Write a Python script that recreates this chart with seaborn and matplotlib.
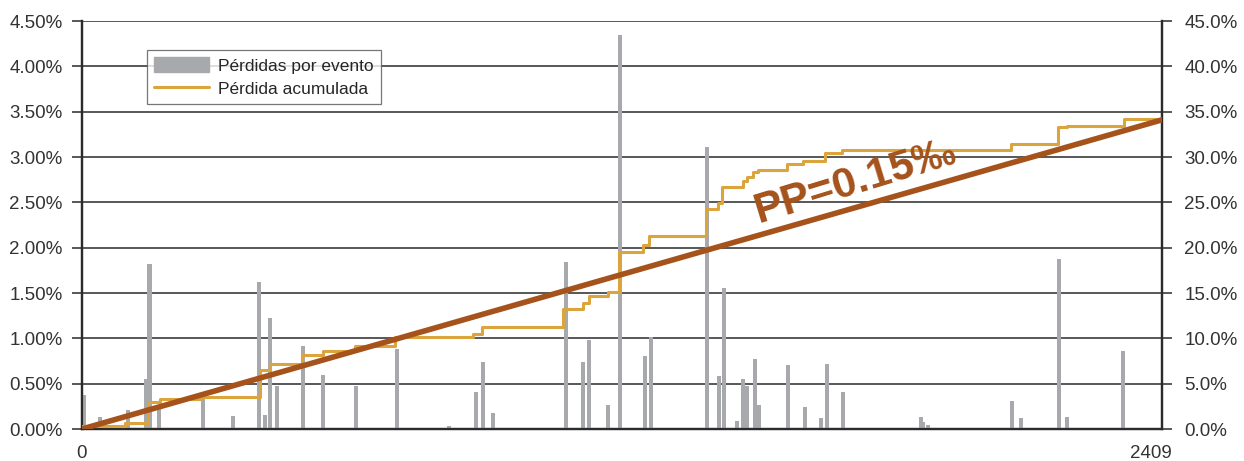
import numpy as np
import matplotlib
matplotlib.use('Agg')
import matplotlib.pyplot as plt
import matplotlib.patches as mpatches
import matplotlib.lines as mlines
from matplotlib.ticker import FuncFormatter
import seaborn as sns

sns.set_style('white')
plt.rcParams['font.family'] = ['Liberation Sans', 'DejaVu Sans']

# Pérdidas por evento (posición del evento, pérdida en %)
event_x = [5, 41, 63, 104, 144, 152, 174, 273, 340, 399, 412, 424, 439, 498, 543,
           618, 710, 827, 888, 904, 926, 1091, 1129, 1143, 1185, 1213, 1269, 1282,
           1409, 1436, 1447, 1476, 1490, 1499, 1517, 1526, 1591, 1629, 1666, 1679,
           1715, 1891, 1895, 1907, 2096, 2116, 2202, 2220, 2346]
event_loss = [0.38, 0.13, 0.03, 0.21, 0.55, 1.82, 0.22, 0.37, 0.14, 1.62, 0.15, 1.22,
              0.47, 0.92, 0.60, 0.47, 0.88, 0.03, 0.41, 0.74, 0.18, 1.84, 0.74, 0.98,
              0.27, 4.35, 0.81, 1.01, 3.11, 0.58, 1.56, 0.09, 0.55, 0.47, 0.77, 0.27,
              0.71, 0.24, 0.12, 0.72, 0.41, 0.13, 0.08, 0.04, 0.31, 0.12, 1.87, 0.13,
              0.86]

# Pérdida acumulada (escalones, eje derecho en %)
cum_x = [0, 97, 149, 176, 266, 401, 424, 496, 543, 615, 705, 881, 901, 1084, 1129,
         1143, 1185, 1210, 1264, 1278, 1406, 1433, 1442, 1490, 1499, 1512, 1524, 1589,
         1625, 1675, 1713, 2094, 2200, 2220, 2348, 2434]
cum_y = [0.3, 0.7, 3.0, 3.3, 3.5, 6.5, 7.2, 8.2, 8.6, 9.1, 10.1, 10.5, 11.2, 13.2, 13.9,
         14.7, 15.1, 19.5, 20.3, 21.3, 24.3, 24.9, 26.7, 27.4, 27.8, 28.4, 28.6, 29.2,
         29.6, 30.4, 30.8, 31.4, 33.3, 33.4, 34.2, 34.2]

# Recta PP
pp_x = [0, 2434]
pp_y = [0, 34.1]

x_ticks = [0, 344, 688, 1032, 1376, 1720, 2065, 2409]
x_ticklabels = ['0', '', '', '', '', '', '', '2409']

bar_color = '#A7A9AC'
cum_color = '#DBA43C'
pp_color = '#A5521B'
grid_color = '#4a4a4a'
text_color = '#333333'

fig = plt.figure(figsize=(12.44, 4.61), dpi=100)
ax = fig.add_axes([82 / 1244, 32 / 461, 1080 / 1244, 408 / 461])

ax.bar(event_x, event_loss, width=10, color=bar_color, zorder=3, linewidth=0)
ax.set_xlim(0, 2434)
ax.set_ylim(0, 4.5)
ax.set_yticks(np.arange(0, 4.51, 0.5))
ax.yaxis.set_major_formatter(FuncFormatter(lambda v, p: f'{v:.2f}%'))
ax.grid(axis='y', color=grid_color, linewidth=1.3, zorder=0)
ax.set_axisbelow(True)
ax.set_xticks(x_ticks)
ax.set_xticklabels(x_ticklabels)

ax2 = ax.twinx()
sns.lineplot(x=cum_x, y=cum_y, ax=ax2, color=cum_color, linewidth=2.2,
             drawstyle='steps-post', zorder=4)
sns.lineplot(x=pp_x, y=pp_y, ax=ax2, color=pp_color, linewidth=4, zorder=5)
ax2.set_ylim(0, 45)
ax2.set_yticks(np.arange(0, 45.1, 5))
ax2.yaxis.set_major_formatter(FuncFormatter(lambda v, p: f'{v:.1f}%'))
ax2.set_xlim(0, 2434)

ax2.text(1742, 27.3, 'PP=0.15‰', color=pp_color, fontsize=31, fontweight='bold',
         rotation=17, ha='center', va='center', rotation_mode='anchor', zorder=6)

for a in (ax, ax2):
    for side in ('left', 'right', 'bottom'):
        a.spines[side].set_color('#2b2b2b')
        a.spines[side].set_linewidth(1.6)
    a.spines['top'].set_visible(False)

ax.tick_params(axis='y', direction='out', length=7, width=1.3, color=grid_color,
               labelsize=13.5, labelcolor=text_color, pad=7)
ax2.tick_params(axis='y', direction='out', length=7, width=1.3, color=grid_color,
                labelsize=13.5, labelcolor=text_color, pad=9)
ax.tick_params(axis='x', direction='inout', length=9, width=1.2, color='#8a8a8a',
               labelsize=13.5, labelcolor=text_color, pad=7)

handles = [mpatches.Patch(color=bar_color),
           mlines.Line2D([], [], color=cum_color, linewidth=2.2)]
leg = ax2.legend(handles, ['Pérdidas por evento', 'Pérdida acumulada'],
                 loc='upper left', bbox_to_anchor=(0.060, 0.928), borderaxespad=0,
                 fontsize=12.5, frameon=True, fancybox=False, handlelength=3.2,
                 handleheight=0.9, labelspacing=0.4, borderpad=0.4, handletextpad=0.5)
leg.get_frame().set_edgecolor('#555555')
leg.get_frame().set_linewidth(0.9)

fig.savefig('out.png', dpi=100)
